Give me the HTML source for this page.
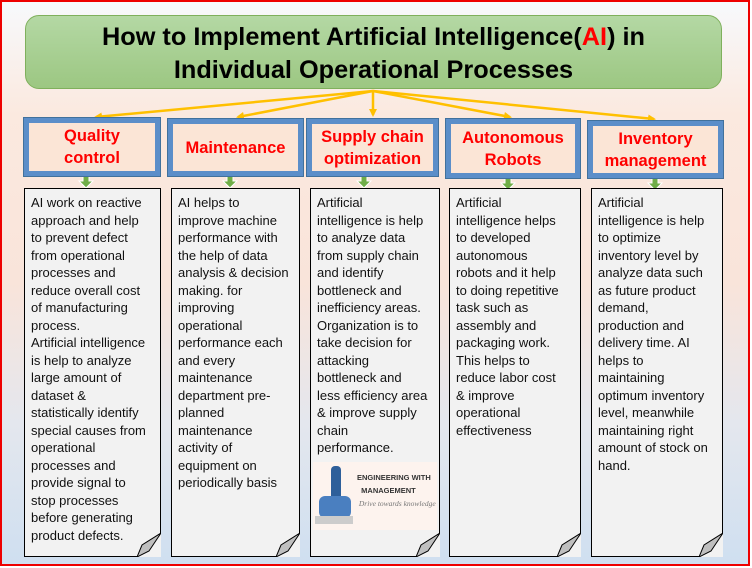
<!DOCTYPE html>
<html><head><meta charset="utf-8"><style>
*{margin:0;padding:0;box-sizing:border-box}
body{width:752px;height:568px;overflow:hidden;position:relative;font-family:"Liberation Sans",sans-serif;background:#fff}
#bg{position:absolute;left:0;top:0;width:750px;height:566px;border:2px solid #e00;background:linear-gradient(#f7f9fc 0%,#fbe9df 20%,#f9e4da 50%,#e4e7ee 75%,#cfdff0 100%)}
#hdr{position:absolute;left:25px;top:15px;width:697px;height:74px;border:1px solid #7fb05c;border-radius:14px;background:linear-gradient(#b4d8a4,#9cc782);text-align:center;font-weight:bold;font-size:25.3px;line-height:33px;padding-top:5px;color:#000;white-space:nowrap}
.t{position:absolute;border:5px solid #5b8ec9;outline:1px solid #41719c;background:#fbe5d6;color:#f00;font-weight:bold;font-size:16.5px;line-height:22px;text-align:center;display:flex;align-items:center;justify-content:center;white-space:nowrap}
.b{position:absolute;top:188px;height:369px;border:1px solid #000;background:#f2f2f2;font-size:13px;line-height:17.5px;padding:5px 0 0 6px;color:#111;white-space:nowrap}
.b svg{position:absolute;right:-1px;bottom:-1px}
</style></head><body>
<div id="bg"></div>
<div id="hdr">How to Implement Artificial Intelligence(<span style="color:#f00">AI</span>) in<br>Individual Operational Processes</div>
<svg style="position:absolute;left:0;top:0" width="752" height="568">
<defs><marker id="a" markerWidth="8" markerHeight="8" refX="6" refY="4" orient="auto" markerUnits="userSpaceOnUse"><path d="M0,0L8,4L0,8z" fill="#ffc000"/></marker></defs>
<g stroke="#ffc000" stroke-width="2.5" fill="none">
<line x1="373" y1="91" x2="96" y2="117" marker-end="url(#a)"/>
<line x1="373" y1="91" x2="238" y2="117" marker-end="url(#a)"/>
<line x1="373" y1="91" x2="373" y2="115" marker-end="url(#a)"/>
<line x1="373" y1="91" x2="510" y2="117" marker-end="url(#a)"/>
<line x1="373" y1="91" x2="654" y2="119" marker-end="url(#a)"/>
</g>
<g fill="#70ad47" stroke="#fff" stroke-width="1">
<path d="M83,176h6v5h4l-7,7l-7,-7h4z"/>
<path d="M227,176h6v5h4l-7,7l-7,-7h4z"/>
<path d="M361,176h6v5h4l-7,7l-7,-7h4z"/>
<path d="M505,178h6v5h4l-7,7l-7,-7h4z"/>
<path d="M652,178h6v5h4l-7,7l-7,-7h4z"/>
</g>
</svg>
<div class="t" style="left:24px;top:118px;width:136px;height:58px">Quality<br>control</div>
<div class="t" style="left:168px;top:119px;width:135px;height:57px">Maintenance</div>
<div class="t" style="left:307px;top:119px;width:131px;height:57px">Supply chain<br>optimization</div>
<div class="t" style="left:446px;top:119px;width:134px;height:59px">Autonomous<br>Robots</div>
<div class="t" style="left:588px;top:121px;width:135px;height:57px">Inventory<br>management</div>

<div class="b" style="left:24px;width:137px">AI work on reactive<br>approach and help<br>to prevent defect<br>from operational<br>processes and<br>reduce overall cost<br>of manufacturing<br>process.<br>Artificial intelligence<br>is help to analyze<br>large amount of<br>dataset &amp;<br>statistically identify<br>special causes from<br>operational<br>processes and<br>provide signal to<br>stop processes<br>before generating<br>product defects.<svg width="24" height="24"><path d="M0,24L24,0V24z" fill="#f2f2f2"/><path d="M0,24L5,12L24,0L12,18z" fill="#bfbfbf" stroke="#000" stroke-width="1"/></svg></div>
<div class="b" style="left:171px;width:129px">AI helps to<br>improve machine<br>performance with<br>the help of data<br>analysis &amp; decision<br>making. for<br>improving<br>operational<br>performance each<br>and every<br>maintenance<br>department pre-<br>planned<br>maintenance<br>activity of<br>equipment on<br>periodically basis<svg width="24" height="24"><path d="M0,24L24,0V24z" fill="#f2f2f2"/><path d="M0,24L5,12L24,0L12,18z" fill="#bfbfbf" stroke="#000" stroke-width="1"/></svg></div>
<div class="b" style="left:310px;width:130px">Artificial<br>intelligence is help<br>to analyze data<br>from supply chain<br>and identify<br>bottleneck and<br>inefficiency areas.<br>Organization is to<br>take decision for<br>attacking<br>bottleneck and<br>less efficiency area<br>&amp; improve supply<br>chain<br>performance.
<div style="position:absolute;left:2px;top:273px;width:124px;height:68px;background:#fdf3ee;font-size:7.5px;font-weight:bold;line-height:13px;color:#333;padding:9px 0 0 44px;white-space:nowrap;overflow:hidden">ENGINEERING WITH<br>&nbsp;&nbsp;MANAGEMENT<br><i style="font-weight:normal;font-family:'Liberation Serif',serif;color:#777">&nbsp;Drive towards knowledge</i>
<div style="position:absolute;left:18px;top:4px;width:10px;height:38px;background:#2e5f9a;border-radius:4px"></div>
<div style="position:absolute;left:6px;top:34px;width:32px;height:22px;background:#4a7fc0;border-radius:6px"></div>
<div style="position:absolute;left:2px;top:54px;width:38px;height:8px;background:#ccc"></div>
</div>
<svg width="24" height="24"><path d="M0,24L24,0V24z" fill="#f2f2f2"/><path d="M0,24L5,12L24,0L12,18z" fill="#bfbfbf" stroke="#000" stroke-width="1"/></svg></div>
<div class="b" style="left:449px;width:132px">Artificial<br>intelligence helps<br>to developed<br>autonomous<br>robots and it help<br>to doing repetitive<br>task such as<br>assembly and<br>packaging work.<br>This helps to<br>reduce labor cost<br>&amp; improve<br>operational<br>effectiveness<svg width="24" height="24"><path d="M0,24L24,0V24z" fill="#f2f2f2"/><path d="M0,24L5,12L24,0L12,18z" fill="#bfbfbf" stroke="#000" stroke-width="1"/></svg></div>
<div class="b" style="left:591px;width:132px">Artificial<br>intelligence is help<br>to optimize<br>inventory level by<br>analyze data such<br>as future product<br>demand,<br>production and<br>delivery time. AI<br>helps to<br>maintaining<br>optimum inventory<br>level, meanwhile<br>maintaining right<br>amount of stock on<br>hand.<svg width="24" height="24"><path d="M0,24L24,0V24z" fill="#f2f2f2"/><path d="M0,24L5,12L24,0L12,18z" fill="#bfbfbf" stroke="#000" stroke-width="1"/></svg></div>
</body></html>
